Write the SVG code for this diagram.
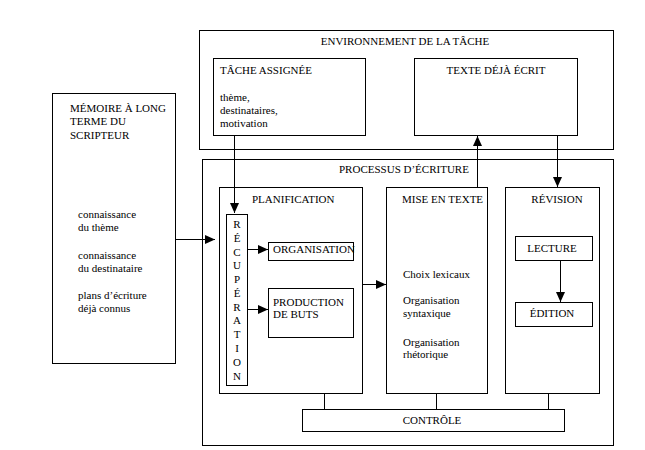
<svg xmlns="http://www.w3.org/2000/svg" width="645" height="450" viewBox="0 0 645 450">
<style>
rect{fill:none;stroke:#000;stroke-width:1}
text{font-size:11px;fill:#000}
.c{text-anchor:middle}
.ln{stroke:#000;stroke-width:1;fill:none}
.ar{marker-end:url(#ah)}
</style>
<defs>
<marker id="ah" markerUnits="userSpaceOnUse" markerWidth="10" markerHeight="10" refX="10" refY="4.5" orient="auto">
<path d="M0,0 L10,4.5 L0,9 z" fill="#000"/>
</marker>
</defs>
<rect x="0" y="0" width="645" height="450" style="fill:#fff;stroke:none"/>
<g font-family="Liberation Serif, DejaVu Serif, serif">
<g id="environnement">
<rect x="199.5" y="30.5" width="414" height="119"/>
<text class="c" x="405" y="45">ENVIRONNEMENT DE LA TÂCHE</text>
</g>
<g id="tache-assignee">
<rect x="213.5" y="58.5" width="152" height="77"/>
<text x="220" y="74">TÂCHE ASSIGNÉE</text>
<text x="220" y="101">thème,</text>
<text x="220" y="114">destinataires,</text>
<text x="220" y="127">motivation</text>
</g>
<g id="texte-deja-ecrit">
<rect x="414.5" y="58.5" width="163" height="77"/>
<text class="c" x="496" y="74">TEXTE DÉJÀ ÉCRIT</text>
</g>
<g id="memoire">
<rect x="52.5" y="93.5" width="123" height="270"/>
<text x="70" y="112">MÉMOIRE À LONG</text>
<text x="70" y="125">TERME DU</text>
<text x="70" y="139">SCRIPTEUR</text>
<text x="78" y="218">connaissance</text>
<text x="78" y="231">du thème</text>
<text x="78" y="259">connaissance</text>
<text x="78" y="272">du destinataire</text>
<text x="78" y="299">plans d’écriture</text>
<text x="78" y="312">déjà connus</text>
</g>
<g id="processus">
<rect x="202.5" y="159.5" width="411" height="286"/>
<text x="339" y="173">PROCESSUS D’ÉCRITURE</text>
</g>
<g id="planification">
<rect x="219.5" y="187.5" width="143" height="206"/>
<text x="252" y="203">PLANIFICATION</text>
</g>
<g id="recuperation">
<rect x="226.5" y="214.5" width="21" height="171"/>
<text class="c" x="237" y="228">R</text>
<text class="c" x="237" y="242">É</text>
<text class="c" x="237" y="256">C</text>
<text class="c" x="237" y="269">U</text>
<text class="c" x="237" y="283">P</text>
<text class="c" x="237" y="297">É</text>
<text class="c" x="237" y="311">R</text>
<text class="c" x="237" y="324">A</text>
<text class="c" x="237" y="338">T</text>
<text class="c" x="237" y="352">I</text>
<text class="c" x="237" y="366">O</text>
<text class="c" x="237" y="380">N</text>
</g>
<g id="organisation">
<rect x="268.5" y="242.5" width="85" height="18"/>
<text x="273" y="253">ORGANISATION</text>
</g>
<g id="production">
<rect x="268.5" y="288.5" width="85" height="49"/>
<text x="273" y="306">PRODUCTION</text>
<text x="273" y="318">DE BUTS</text>
</g>
<g id="mise-en-texte">
<rect x="386.5" y="187.5" width="101" height="206"/>
<text x="402" y="203">MISE EN TEXTE</text>
<text x="403" y="278">Choix lexicaux</text>
<text x="403" y="304">Organisation</text>
<text x="403" y="317">syntaxique</text>
<text x="403" y="346">Organisation</text>
<text x="403" y="358">rhétorique</text>
</g>
<g id="revision">
<rect x="505.5" y="187.5" width="94" height="206"/>
<text class="c" x="557" y="203">RÉVISION</text>
</g>
<g id="lecture">
<rect x="515.5" y="236.5" width="77" height="24"/>
<text class="c" x="552" y="252">LECTURE</text>
</g>
<g id="edition">
<rect x="515.5" y="302.5" width="77" height="24"/>
<text class="c" x="552" y="317">ÉDITION</text>
</g>
<g id="controle">
<rect x="302.5" y="409.5" width="262" height="22"/>
<text class="c" x="432" y="424">CONTRÔLE</text>
</g>
</g>
<g id="connecteurs">
<line class="ln ar" x1="234.5" y1="136" x2="234.5" y2="213"/>
<line class="ln ar" x1="176" y1="239.5" x2="215" y2="239.5"/>
<line class="ln ar" x1="248" y1="249.5" x2="268" y2="249.5"/>
<line class="ln ar" x1="248" y1="309.5" x2="268" y2="309.5"/>
<line class="ln ar" x1="363" y1="284.5" x2="386" y2="284.5"/>
<line class="ln ar" x1="477.5" y1="187" x2="477.5" y2="136"/>
<line class="ln ar" x1="557.5" y1="136" x2="557.5" y2="187"/>
<line class="ln ar" x1="560.5" y1="261" x2="560.5" y2="302"/>
<line class="ln" x1="324.5" y1="394" x2="324.5" y2="409"/>
<line class="ln" x1="436.5" y1="394" x2="436.5" y2="409"/>
<line class="ln" x1="548.5" y1="394" x2="548.5" y2="409"/>
</g>
</svg>
